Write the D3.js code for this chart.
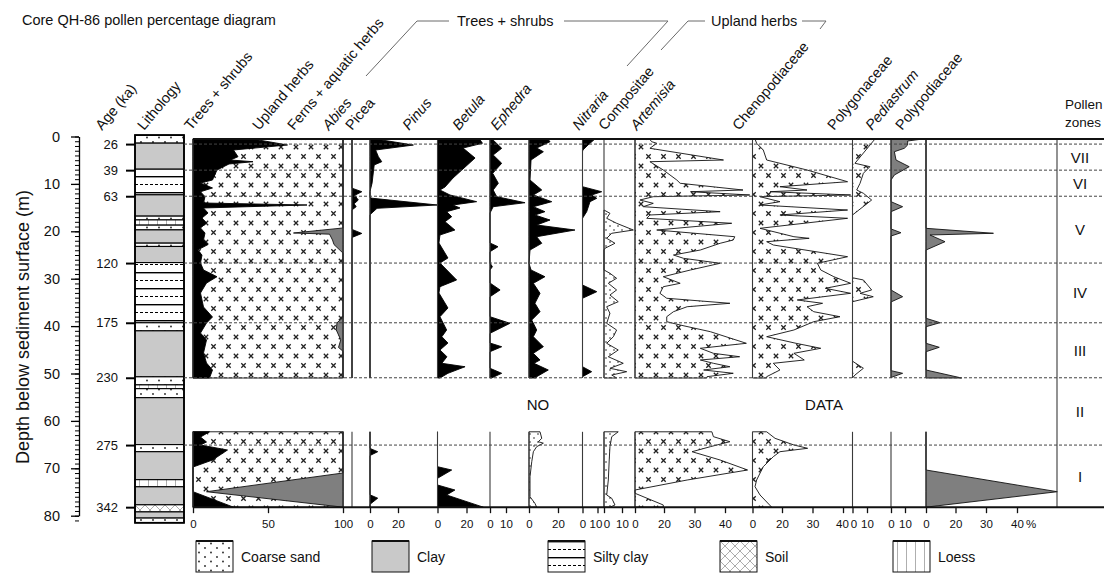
<!DOCTYPE html>
<html>
<head>
<meta charset="utf-8">
<title>Core QH-86 pollen percentage diagram</title>
<script src="https://cdn.jsdelivr.net/npm/d3@7/dist/d3.min.js"></script>
<style>
  html, body { margin: 0; padding: 0; background: #fff; }
  svg { display: block; }
  text { font-family: "Liberation Sans", Arial, Helvetica, sans-serif; fill: #111; }
</style>
</head>
<body>
<svg id="chart" width="1104" height="587" viewBox="0 0 1104 587"></svg>
<script>
// ---------- depth / age framework ----------
const depthTicks = [0, 10, 20, 30, 40, 50, 60, 70, 80];
const ageLabels = [26, 39, 63, 120, 175, 230, 275, 342];
const ageDepths = [1.6, 7.1, 12.6, 26.7, 39.3, 50.9, 65.1, 78.2];
const zoneNames = ["VII", "VI", "V", "IV", "III", "II", "I"];
const sampledIntervals = [[0.53, 50.95], [62.3, 78.2]];

// ---------- lithology: [top m, bottom m, type] ----------
const lithology = [
  [-0.3, 1.4, "sand"], [1.4, 6.9, "clay"], [6.9, 12.3, "silt"], [12.3, 16.8, "clay"],
  [16.8, 17.6, "sand"], [17.6, 18.7, "loess"], [18.7, 19.7, "sand"], [19.7, 22.5, "clay"],
  [22.5, 23.2, "sand"], [23.2, 26.6, "clay"], [26.6, 39.3, "silt"], [39.3, 41.0, "sand"],
  [41.0, 50.7, "clay"], [50.7, 52.4, "sand"], [52.4, 53.2, "loess"], [53.2, 55.1, "sand"],
  [55.1, 65.0, "clay"], [65.0, 66.5, "sand"], [66.5, 72.4, "clay"], [72.4, 73.9, "loess"],
  [73.9, 77.7, "clay"], [77.7, 79.2, "soil"], [79.2, 80.5, "clay"], [80.5, 81.5, "sand"]
];
const legendTypes = ["sand", "clay", "silt", "soil", "loess"];
const legendNames = ["Coarse sand", "Clay", "Silty clay", "Soil", "Loess"];

// ---------- summary curves: [depth m, %] ----------
const treesShrubs = [
  [0.53, 40], [1.79, 63], [2.85, 27], [4.26, 30], [4.96, 25], [5.32, 40], [5.8, 24], [7.07, 16],
  [9.18, 13], [9.81, 5], [10.86, 13], [11.65, 5], [12.7, 8], [14.03, 7], [14.45, 76], [15.08, 7],
  [16.14, 10], [17.19, 6], [18.25, 9], [19.3, 5], [20.36, 8], [21.84, 7], [22.8, 10], [23.95, 3],
  [25.0, 6], [26.69, 5], [28.16, 7], [29.58, 16], [30.91, 9], [33.02, 5], [35.97, 7], [38.08, 13],
  [39.35, 9], [41.46, 5], [42.93, 9], [45.68, 7], [47.78, 9], [49.26, 13], [50.95, 11],
  [62.3, 11], [63.4, 5], [64.45, 9], [65.08, 5], [66.14, 23], [68.25, 13], [69.73, 0], [74.94, 0], [78.2, 27]
];
const fernsAquatic = [
  [0.53, 0], [19.3, 0], [20.36, 33], [20.6, 9], [21.84, 7], [22.8, 6], [24.6, 0], [38.2, 0],
  [39.3, 4], [40.8, 4.5], [42.9, 1.5], [44.5, 3], [45.3, 0], [50.95, 0],
  [62.3, 0], [70.99, 0], [74.94, 91], [78.2, 0]
];

// ---------- taxa: [depth m, %] ----------
const abies = [
  [0.53, 0], [10.9, 0], [11.65, 7], [12.4, 2], [13.4, 4.5], [14.2, 1.5], [14.8, 3], [15.5, 0],
  [19.6, 0], [20.45, 7], [21.3, 0], [50.95, 0], [62.3, 0], [78.2, 0]
];
const picea = [
  [0.53, 4], [1.8, 31], [2.85, 4], [4.26, 6], [5.32, 8.4], [6.0, 3], [9.8, 1.5], [11.6, 0],
  [12.9, 0], [13.04, 2], [14.45, 48], [15.15, 5], [16.5, 0], [50.95, 0],
  [62.3, 0], [65.8, 0], [66.5, 5.5], [67.3, 0], [75.6, 0], [76.3, 5.5], [77.6, 0], [78.2, 0]
];
const pinus = [
  [0.53, 29], [1.43, 31], [2.43, 17.6], [4.54, 25.9], [8.76, 10.7], [10.65, 5.2], [11.29, 1.7],
  [12.34, 8.6], [13.75, 27], [14.45, 10.7], [15.08, 15.5], [15.86, 6.3], [16.92, 9.8], [17.97, 5.2],
  [19.73, 12], [20.78, 1.7], [22.47, 1], [25.63, 7.2], [26.69, 1.7], [30.27, 13.2], [31.69, 1.7],
  [33.02, 1], [36.18, 7.2], [38.02, 1.7], [40.82, 6.3], [42.24, 3], [43.57, 7.2], [45.04, 1.7],
  [46.46, 6.5], [47.85, 3], [48.57, 19], [49.96, 7.2], [50.95, 1.7],
  [62.3, 0], [69.66, 0], [70.36, 9.8], [72.11, 0], [73.52, 0], [74.58, 12], [75.63, 6.3], [78.2, 31.6]
];
const betula = [
  [0.53, 1.3], [2.49, 7.3], [3.9, 2], [5.65, 7.3], [7.76, 1.7], [9.87, 5.2], [11.29, 2], [12.7, 4.2],
  [13.97, 21.9], [14.81, 2], [16.14, 0], [22.47, 0], [23.25, 5], [24.3, 0], [26.69, 0], [27.47, 1.5],
  [28.16, 0], [30.91, 0], [32.38, 6.3], [33.8, 0], [38.02, 0], [39.41, 12.5], [41.52, 0], [43.57, 0],
  [44.35, 7.3], [45.4, 0], [48.9, 0], [49.96, 7.3], [50.95, 1], [62.3, 0], [78.2, 0]
];
const ephedra = [
  [0.53, 13], [1.1, 14.5], [2.43, 5.3], [3.21, 9.9], [4.96, 1.4], [9.18, 0.7], [11.29, 8.8],
  [12.34, 3], [13.75, 15.7], [14.81, 3], [15.86, 11], [16.56, 4.1], [17.62, 14.5], [18.67, 5.3],
  [19.73, 31.7], [21.14, 5.3], [22.53, 8.8], [23.95, 0.7], [26.75, 0], [28.16, 1.4], [29.58, 11],
  [30.97, 3], [33.08, 7.6], [35.19, 4.1], [36.96, 7.6], [38.71, 1.9], [40.82, 5.3], [42.24, 3],
  [44.35, 9.9], [45.74, 3], [47.15, 7.6], [47.85, 3.4], [49.26, 13.3], [50.67, 5.3], [50.95, 5],
  [62.3, 7.6], [63.68, 8.8], [64.39, 6.4], [64.7, 9.9], [65.44, 5.3], [66.5, 3], [68.6, 1.9],
  [71.77, 0.7], [75.99, 0.7], [77.4, 4.1], [78.2, 5.3]
];
const nitraria = [
  [0.53, 8.3], [1.79, 3.7], [2.85, 0.3], [3.2, 0], [10.59, 0], [11.65, 12.8], [12.34, 6.1],
  [13.04, 9.5], [13.75, 5], [15.86, 2.8], [17.26, 0], [31.33, 0], [32.74, 9.5], [34.13, 0],
  [48.57, 0], [49.62, 6.1], [50.67, 0], [50.95, 0], [62.3, 0], [78.2, 0]
];
const compositae = [
  [15.51, 0], [16.2, 3.3], [17.26, 1.5], [18.31, 7], [19.73, 16.3], [20.42, 4.3], [21.48, 1.5],
  [22.53, 6.1], [23.59, 0.5], [23.95, 0], [28.16, 0], [28.86, 3.3], [29.92, 7], [30.97, 2.4],
  [32.38, 7], [33.44, 3.3], [34.85, 7.9], [35.91, 1.5], [37.3, 3.3], [39.41, 1.5], [40.82, 7],
  [42.24, 5.2], [43.63, 1.5], [45.04, 7.9], [46.46, 2.4], [47.85, 10.7], [48.9, 3.3], [49.62, 12.6],
  [50.32, 4.3], [50.95, 7],
  [62.3, 7.9], [63.33, 4.3], [65.44, 3.3], [68.25, 2.9], [72.47, 2.4], [75.63, 1.5], [76.33, 4.3],
  [77.74, 6.1], [78.2, 3.3]
];
const artemisia = [
  [0.53, 10], [1.1, 11.5], [1.43, 15], [2.49, 10.3], [4.96, 39.5], [5.32, 10.3], [7.07, 19.5],
  [9.18, 24.2], [9.87, 25.3], [11.29, 45.9], [11.65, 28.7], [12.34, 48.1], [12.7, 12.6], [13.4, 3.4],
  [14.1, 12.6], [14.81, 5.7], [15.86, 38.4], [16.56, 10.3], [17.26, 8.1], [18.31, 42.2], [19.73, 15],
  [21.14, 43.2], [21.84, 42.7], [22.53, 38.4], [23.95, 31.9], [25.0, 23.1], [25.7, 26.4], [26.75, 38.4],
  [28.16, 28.7], [29.58, 19.5], [30.97, 25.3], [31.69, 19.5], [33.08, 17.2], [34.13, 20.9],
  [35.19, 41.6], [35.91, 27.6], [36.96, 23.1], [38.02, 20.9], [39.07, 20.9], [39.77, 25.3],
  [41.18, 35.2], [43.63, 47], [44.68, 31.9], [45.74, 36.2], [46.46, 44.8], [47.15, 31.9],
  [47.85, 36.2], [48.57, 41.6], [49.26, 33], [49.96, 42.7], [50.67, 34.1], [50.95, 34],
  [62.3, 35.7], [63.33, 36.2], [64.39, 41.6], [65.44, 35.2], [66.5, 29.2], [68.25, 38.4],
  [70.36, 47.4], [72.47, 27.6], [74.58, 0], [75.27, 0], [77.74, 19.5], [78.2, 19.5]
];
const chenopodiaceae = [
  [0.53, 1.7], [1.43, 2.8], [2.85, 7.3], [4.96, 9.6], [7.07, 28.2], [9.54, 41.5], [10.59, 18.6],
  [11.29, 28.2], [11.65, 11.9], [12.34, 42.5], [12.7, 5.1], [13.75, 18.6], [14.45, 5.1],
  [15.51, 41.5], [16.56, 18.6], [17.26, 41.5], [19.37, 5.1], [21.14, 23.9], [21.48, 28.9],
  [22.19, 9.6], [22.89, 14.1], [25.36, 41.5], [26.75, 31.6], [28.16, 32.7], [29.58, 37],
  [30.97, 42.5], [32.03, 34.2], [33.08, 42.5], [34.49, 25], [35.19, 33.3], [35.91, 28.2],
  [36.96, 30.4], [38.02, 39], [39.07, 30.4], [40.82, 23.9], [42.24, 9.6], [43.63, 24.6],
  [44.68, 32.7], [45.74, 23.9], [47.15, 27.3], [47.85, 14.1], [49.26, 18.6], [50.67, 9.6], [50.95, 9.6],
  [62.3, 9.6], [63.68, 15.3], [65.08, 23.9], [65.78, 28.4], [66.5, 18.6], [67.55, 14.1],
  [69.66, 7.3], [72.47, 2.8], [73.88, 1.7], [75.63, 5.1], [78.2, 13]
];
const polygonaceae = [
  [0.53, 15.5], [5.65, 1.7], [6.37, 12], [7.76, 7.5], [9.87, 5.2], [11.29, 2.9], [11.98, 7.5],
  [13.4, 13.2], [16.56, 0], [29.8, 0], [30.27, 7.5], [32.38, 13.2], [33.08, 5.2], [33.8, 14.3],
  [34.85, 0], [47.4, 0], [48.9, 7.5], [50.32, 1.7], [50.95, 0], [62.3, 0], [78.2, 0]
];
const pediastrum = [
  [0.53, 22.6], [0.95, 11.9], [1.79, 11.9], [2.49, 9.5], [3.21, 2.4], [4.96, 3.6], [6.37, 13],
  [8.12, 2.4], [9.18, 0], [13.75, 0], [14.81, 8.3], [15.86, 0], [19.5, 0], [20.3, 7.1], [21.0, 0],
  [32.38, 0], [33.8, 8.3], [34.9, 0], [49.4, 0], [49.96, 8.3], [50.85, 0], [50.95, 0], [62.3, 0], [78.2, 0]
];
const polypodiaceae = [
  [0.53, 0], [19.37, 0], [20.42, 32.4], [20.78, 2.7], [22.19, 12.9], [23.95, 0], [38.35, 0],
  [39.28, 9.5], [40.13, 0], [43.63, 0], [44.47, 9], [45.4, 0], [49.26, 0], [50.95, 22],
  [62.3, 0], [70.36, 0], [74.94, 53], [78.2, 0]
];

// ---------- axis tick values ----------
const summaryTicks = [0, 50, 100];
const ticks20 = [0, 20];
const ticks10 = [0, 10];
const ticksWide = [0, 20, 30, 40];

// ---------- layout ----------
const FONT = '"Liberation Sans", Arial, Helvetica, sans-serif';
const svg = d3.select("#chart");
const y = d3.scaleLinear().domain([0, 80]).range([136.5, 515.7]);
const xSum = d3.scaleLinear().domain([0, 100]).range([193, 343]);
const TOP_Y = y(sampledIntervals[0][0]);
const AXIS_Y = y(sampledIntervals[1][1]);
const RIGHT = 1104;
const ZONE_X = 1057;

const panels = [
  { name: "Abies", italic: true, labelX: 329, data: abies, domain: [0, 20], range: [352, 380], ticks: [], style: "black" },
  { name: "Picea", italic: false, labelX: 352, data: picea, domain: [0, 20], range: [370, 398], ticks: ticks20, style: "black" },
  { name: "Pinus", italic: true, labelX: 409, data: pinus, domain: [0, 20], range: [437.5, 466.5], ticks: ticks20, style: "black" },
  { name: "Betula", italic: true, labelX: 459, data: betula, domain: [0, 10], range: [490, 506], ticks: ticks10, style: "black" },
  { name: "Ephedra", italic: true, labelX: 497, data: ephedra, domain: [0, 20], range: [529, 558], ticks: ticks20, style: "black", lowerStyle: "stipple" },
  { name: "Nitraria", italic: true, labelX: 579, data: nitraria, domain: [0, 10], range: [582.5, 597.5], ticks: ticks10, style: "black", lastDx: -2 },
  { name: "Compositae", italic: false, labelX: 605, data: compositae, domain: [0, 10], range: [604, 622], ticks: ticks10, style: "stipple", firstDx: 2.5 },
  { name: "Artemisia", italic: true, labelX: 637, data: artemisia, domain: ticksWide, range: [635, 664, 694.5, 725], ticks: ticksWide, style: "cross" },
  { name: "Chenopodiaceae", italic: false, labelX: 739, data: chenopodiaceae, domain: ticksWide, range: [752.5, 782, 812.5, 843], ticks: ticksWide, style: "cross", lastDx: -1 },
  { name: "Polygonaceae", italic: false, labelX: 834, data: polygonaceae, domain: [0, 10], range: [852.5, 867], ticks: ticks10, style: "cross", firstDx: 1 },
  { name: "Pediastrum", italic: true, labelX: 872, data: pediastrum, domain: [0, 10], range: [891, 905], ticks: ticks10, style: "grey" },
  { name: "Polypodiaceae", italic: false, labelX: 902, data: polypodiaceae, domain: ticksWide, range: [926, 955.5, 986, 1017], ticks: ticksWide, style: "grey" }
];

// ---------- fill patterns ----------
const defs = svg.append("defs");
function pattern(id, w, h, bg) {
  const p = defs.append("pattern").attr("id", id)
    .attr("patternUnits", "userSpaceOnUse").attr("width", w).attr("height", h);
  p.append("rect").attr("width", w).attr("height", h).attr("fill", bg);
  return p;
}
const crossPat = pattern("crossPat", 15, 19, "#fff");
[[3.5, 4.5], [11, 14]].forEach(([cx, cy]) => crossPat.append("path")
  .attr("d", `M${cx - 2.2},${cy - 2.2}L${cx + 2.2},${cy + 2.2}M${cx + 2.2},${cy - 2.2}L${cx - 2.2},${cy + 2.2}`)
  .attr("stroke", "#222").attr("stroke-width", 1.3));
const stipPat = pattern("stipplePat", 8, 8, "#fff");
[[2, 2], [6, 6]].forEach(([cx, cy]) => stipPat.append("circle")
  .attr("cx", cx).attr("cy", cy).attr("r", 0.8).attr("fill", "#222"));
const sandPat = pattern("sandPat", 12, 9, "#fff");
[[3, 2.5], [9, 7]].forEach(([cx, cy]) => sandPat.append("circle")
  .attr("cx", cx).attr("cy", cy).attr("r", 0.9).attr("fill", "#222"));
const siltPat = pattern("siltPat", 20, 16, "#fff");
siltPat.append("line").attr("x1", 0).attr("x2", 20).attr("y1", 0.7).attr("y2", 0.7)
  .attr("stroke", "#000").attr("stroke-width", 1.4);
siltPat.append("line").attr("x1", 0).attr("x2", 20).attr("y1", 8.5).attr("y2", 8.5)
  .attr("stroke", "#000").attr("stroke-width", 1.1).attr("stroke-dasharray", "3,2");
const loessPat = pattern("loessPat", 9, 10, "#fff");
loessPat.append("line").attr("x1", 4.5).attr("x2", 4.5).attr("y1", 0).attr("y2", 10)
  .attr("stroke", "#9a9a9a").attr("stroke-width", 0.8);
const soilPat = pattern("soilPat", 10, 10, "#fff");
soilPat.append("path").attr("d", "M0,0L10,10M10,0L0,10")
  .attr("stroke", "#8a8a8a").attr("stroke-width", 0.7);

const lithFill = { sand: "url(#sandPat)", clay: "#c9c9c9", silt: "url(#siltPat)", loess: "url(#loessPat)", soil: "url(#soilPat)" };
const styles = {
  black: { fill: "#000", stroke: "#000" },
  cross: { fill: "url(#crossPat)", stroke: "#111" },
  stipple: { fill: "url(#stipplePat)", stroke: "#111" },
  grey: { fill: "#7f7f7f", stroke: "#111" }
};

// ---------- title ----------
svg.append("text").attr("x", 22).attr("y", 25).attr("font-size", 14.5)
  .text("Core QH-86 pollen percentage diagram");

// ---------- lithology column ----------
const LITH_X = 135, LITH_W = 49;
const lithG = svg.append("g");
lithG.selectAll("rect.layer").data(lithology).join("rect").attr("class", "layer")
  .attr("x", LITH_X).attr("width", LITH_W)
  .attr("y", d => y(d[0])).attr("height", d => y(d[1]) - y(d[0]))
  .attr("fill", d => lithFill[d[2]]).attr("stroke", "#000").attr("stroke-width", 1.1);
lithG.append("rect").attr("x", LITH_X).attr("width", LITH_W)
  .attr("y", y(lithology[0][0])).attr("height", y(lithology[lithology.length - 1][1]) - y(lithology[0][0]))
  .attr("fill", "none").attr("stroke", "#000").attr("stroke-width", 1.8);

// ---------- helpers ----------
const inInterval = (data, s) => data.filter(d => d[0] >= s[0] - 1e-6 && d[0] <= s[1] + 1e-6);
const plotG = svg.append("g");

// ---------- summary panel ----------
sampledIntervals.forEach(s => {
  plotG.append("rect").attr("x", xSum(0)).attr("y", y(s[0]))
    .attr("width", xSum(100) - xSum(0)).attr("height", y(s[1]) - y(s[0]))
    .attr("fill", "url(#crossPat)").attr("stroke", "#111").attr("stroke-width", 0.9);
  const ferns = inInterval(fernsAquatic, s);
  plotG.append("path").datum(ferns)
    .attr("d", d3.area().y(d => y(d[0])).x0(xSum(100)).x1(d => xSum(100 - d[1])))
    .attr("fill", "#7f7f7f").attr("stroke", "#111").attr("stroke-width", 0.9);
  const trees = inInterval(treesShrubs, s);
  plotG.append("path").datum(trees)
    .attr("d", d3.area().y(d => y(d[0])).x0(xSum(0)).x1(d => xSum(d[1])))
    .attr("fill", "#000").attr("stroke", "#000").attr("stroke-width", 0.9);
});

// ---------- taxon panels ----------
panels.forEach(p => {
  p.scale = d3.scaleLinear().domain(p.domain).range(p.range);
  const base = p.scale(0);
  sampledIntervals.forEach((s, i) => {
    const pts = inInterval(p.data, s);
    if (!pts.length || d3.max(pts, d => d[1]) === 0) return;
    const st = styles[i === 1 && p.lowerStyle ? p.lowerStyle : p.style];
    plotG.append("path").datum(pts)
      .attr("d", d3.area().y(d => y(d[0])).x0(base).x1(d => p.scale(d[1])))
      .attr("fill", st.fill).attr("stroke", st.stroke).attr("stroke-width", 0.9)
      .attr("stroke-linejoin", "miter");
  });
});

// ---------- panel baselines ----------
const baseXs = [xSum(0), xSum(100)].concat(panels.map(p => p.scale(0)));
const lineG = svg.append("g").attr("stroke", "#3a3a3a").attr("stroke-width", 1.1);
sampledIntervals.forEach(s => {
  baseXs.forEach(x => lineG.append("line")
    .attr("x1", x).attr("x2", x).attr("y1", y(s[0])).attr("y2", y(s[1])));
});
lineG.append("line").attr("x1", ZONE_X).attr("x2", ZONE_X).attr("y1", TOP_Y).attr("y2", AXIS_Y);

// ---------- zone boundaries (dashed) ----------
const dashG = svg.append("g").attr("stroke", "#444").attr("stroke-width", 1).attr("stroke-dasharray", "3,2");
ageDepths.slice(0, -1).forEach(d => dashG.append("line")
  .attr("x1", LITH_X + LITH_W).attr("x2", RIGHT).attr("y1", y(d)).attr("y2", y(d)));

// ---------- frame lines ----------
svg.append("line").attr("x1", xSum(0)).attr("x2", RIGHT).attr("y1", TOP_Y).attr("y2", TOP_Y)
  .attr("stroke", "#111").attr("stroke-width", 2);
svg.append("line").attr("x1", xSum(0)).attr("x2", RIGHT).attr("y1", AXIS_Y).attr("y2", AXIS_Y)
  .attr("stroke", "#111").attr("stroke-width", 2);

// ---------- depth axis ----------
const depthG = svg.append("g").attr("transform", "translate(79,0)");
depthG.call(d3.axisLeft(y).tickValues(d3.range(0, 82, 1)).tickSize(4).tickFormat("").tickSizeOuter(0));
depthG.select(".domain").attr("stroke-width", 1.3);
depthG.selectAll(".tick line").attr("stroke-width", 1);
const depthMajor = svg.append("g").attr("transform", "translate(79,0)")
  .call(d3.axisLeft(y).tickValues(depthTicks).tickSize(8).tickPadding(11).tickSizeOuter(0));
depthMajor.select(".domain").remove();
depthMajor.selectAll(".tick line").attr("stroke-width", 1.3);
depthMajor.selectAll("text").attr("font-size", 14.5).attr("font-family", FONT).attr("fill", "#111");

svg.append("text").attr("transform", "translate(29,327) rotate(-90)")
  .attr("text-anchor", "middle").attr("font-size", 18)
  .text("Depth below sediment surface (m)");

// ---------- age axis ----------
const ageG = svg.append("g").attr("transform", `translate(${LITH_X},0)`)
  .call(d3.axisLeft(y).tickValues(ageDepths).tickFormat((d, i) => ageLabels[i]).tickSize(9).tickPadding(8));
ageG.select(".domain").remove();
ageG.selectAll(".tick line").attr("stroke-width", 2);
ageG.selectAll("text").attr("font-size", 13).attr("font-family", FONT).attr("fill", "#111");

// ---------- bottom % axes ----------
function bottomAxis(sc, ticks, firstDx, lastDx) {
  const g = svg.append("g").attr("transform", `translate(0,${AXIS_Y})`)
    .call(d3.axisBottom(sc).tickValues(ticks).tickSize(6).tickPadding(7).tickSizeOuter(0));
  g.select(".domain").remove();
  g.selectAll(".tick line").attr("stroke", "#111").attr("stroke-width", 1.3);
  g.selectAll("text").attr("font-size", 11.5).attr("font-family", FONT).attr("fill", "#111")
    .attr("dx", (d, i, n) => i === 0 ? (firstDx || 0) : (i === n.length - 1 ? (lastDx || 0) : 0));
}
bottomAxis(xSum, summaryTicks);
panels.forEach(p => { if (p.ticks.length) bottomAxis(p.scale, p.ticks, p.firstDx, p.lastDx); });
const lastPanel = panels[panels.length - 1];
svg.append("text").attr("x", lastPanel.scale(40) + 9).attr("y", AXIS_Y + 21)
  .attr("font-size", 11.5).text("%");

// ---------- zones ----------
zoneNames.forEach((z, i) => {
  svg.append("text").attr("x", 1080).attr("y", (y(ageDepths[i]) + y(ageDepths[i + 1])) / 2)
    .attr("dy", "0.36em").attr("text-anchor", "middle").attr("font-size", 15).text(z);
});
svg.append("text").attr("x", 1065).attr("y", 109).attr("font-size", 13.5).text("Pollen");
svg.append("text").attr("x", 1065).attr("y", 127).attr("font-size", 13.5).text("zones");

// ---------- gap note ----------
const gapY = (y(sampledIntervals[0][1]) + y(sampledIntervals[1][0])) / 2;
svg.append("text").attr("x", 538).attr("y", gapY).attr("dy", "0.36em")
  .attr("text-anchor", "middle").attr("font-size", 15).text("NO");
svg.append("text").attr("x", 824).attr("y", gapY).attr("dy", "0.36em")
  .attr("text-anchor", "middle").attr("font-size", 15).text("DATA");

// ---------- column headings ----------
const HEAD_Y = 131, ANGLE = -50;
const headings = [
  ["Age (ka)", 102, false], ["Lithology", 144, false], ["Trees + shrubs", 191, false],
  ["Upland herbs", 259, false], ["Ferns + aquatic herbs", 294, false]
].concat(panels.map(p => [p.name, p.labelX, p.italic]));
headings.forEach(([t, x, it]) => {
  svg.append("text").attr("transform", `translate(${x},${HEAD_Y}) rotate(${ANGLE})`)
    .attr("font-size", 14.5).attr("font-style", it ? "italic" : "normal").text(t);
});

// group brackets
const conn = svg.append("g").attr("fill", "none").attr("stroke", "#6a6a6a").attr("stroke-width", 1);
conn.append("path").attr("d", "M366,76L417,21H449");
conn.append("path").attr("d", "M564,21H668L627,66");
conn.append("path").attr("d", "M661,50L688,21H705");
conn.append("path").attr("d", "M802,21H826L820,29");
svg.append("text").attr("x", 457).attr("y", 26).attr("font-size", 14.5).text("Trees + shrubs");
svg.append("text").attr("x", 711).attr("y", 26).attr("font-size", 14.5).text("Upland herbs");

// ---------- legend ----------
const legendX = [196, 372, 548, 720, 893];
const LEG_Y = 541, LEG_W = 37, LEG_H = 31;
legendTypes.forEach((t, i) => {
  const g = svg.append("g").attr("transform", `translate(${legendX[i]},${LEG_Y})`);
  g.append("rect").attr("width", LEG_W).attr("height", LEG_H)
    .attr("fill", lithFill[t]).attr("stroke", "#111").attr("stroke-width", 1);
  g.append("line").attr("x1", 0).attr("x2", LEG_W).attr("y1", 0).attr("y2", 0)
    .attr("stroke", "#111").attr("stroke-width", 2.2);
  g.append("text").attr("x", LEG_W + 8).attr("y", LEG_H / 2).attr("dy", "0.36em")
    .attr("font-size", 14).text(legendNames[i]);
});
</script>
</body>
</html>
